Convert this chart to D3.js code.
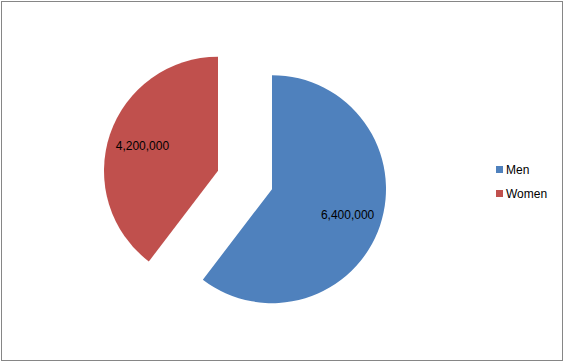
<!DOCTYPE html>
<html>
<head>
<meta charset="utf-8">
<script src="https://cdn.jsdelivr.net/npm/d3@7"></script>
<style>
  html, body { margin: 0; padding: 0; background: #fff; }
  svg { display: block; }
</style>
</head>
<body>
<div id="chart"></div>
<script>
// data
const categories = ["Men", "Women"];
const values = [6400000, 4200000];
const colors = ["#4F81BD", "#C0504D"];

const W = 564, H = 362;
const cx = 245, cy = 180, radius = 114;
const explode = 28.5;

const svg = d3.select("#chart").append("svg")
    .attr("width", W)
    .attr("height", H);

// chart border
svg.append("rect")
    .attr("x", 1.5).attr("y", 1.5)
    .attr("width", W - 3).attr("height", H - 3)
    .attr("fill", "#fff")
    .attr("stroke", "#868686")
    .attr("stroke-width", 1);

const data = categories.map((c, i) => ({ name: c, value: values[i] }));

const pie = d3.pie()
    .sort(null)
    .value(d => d.value);

const arc = d3.arc().innerRadius(0).outerRadius(radius);
const labelArc = d3.arc().innerRadius(radius * 0.7).outerRadius(radius * 0.7);

const fmt = d3.format(",");

const slices = svg.append("g")
    .attr("transform", `translate(${cx},${cy})`)
    .selectAll("g.slice")
    .data(pie(data))
    .enter().append("g")
    .attr("class", "slice")
    .attr("transform", d => {
        const a = (d.startAngle + d.endAngle) / 2;
        return `translate(${explode * Math.sin(a)},${-explode * Math.cos(a)})`;
    });

slices.append("path")
    .attr("d", arc)
    .attr("fill", (d, i) => colors[i]);

slices.append("text")
    .attr("transform", d => `translate(${labelArc.centroid(d)})`)
    .attr("text-anchor", "middle")
    .attr("dy", "0.35em")
    .style("font-family", "'Liberation Sans', Arial, sans-serif")
    .style("font-size", "12px")
    .attr("fill", "#000")
    .text(d => fmt(d.data.value));

// legend
const legend = svg.append("g")
    .attr("transform", "translate(496,166)");

const items = legend.selectAll("g")
    .data(categories)
    .enter().append("g")
    .attr("transform", (d, i) => `translate(0,${i * 24})`);

items.append("rect")
    .attr("width", 7).attr("height", 7)
    .attr("fill", (d, i) => colors[i]);

items.append("text")
    .attr("x", 10)
    .attr("y", 3.5)
    .attr("dy", "0.35em")
    .style("font-family", "'Liberation Sans', Arial, sans-serif")
    .style("font-size", "12px")
    .attr("fill", "#000")
    .text(d => d);
</script>
</body>
</html>
